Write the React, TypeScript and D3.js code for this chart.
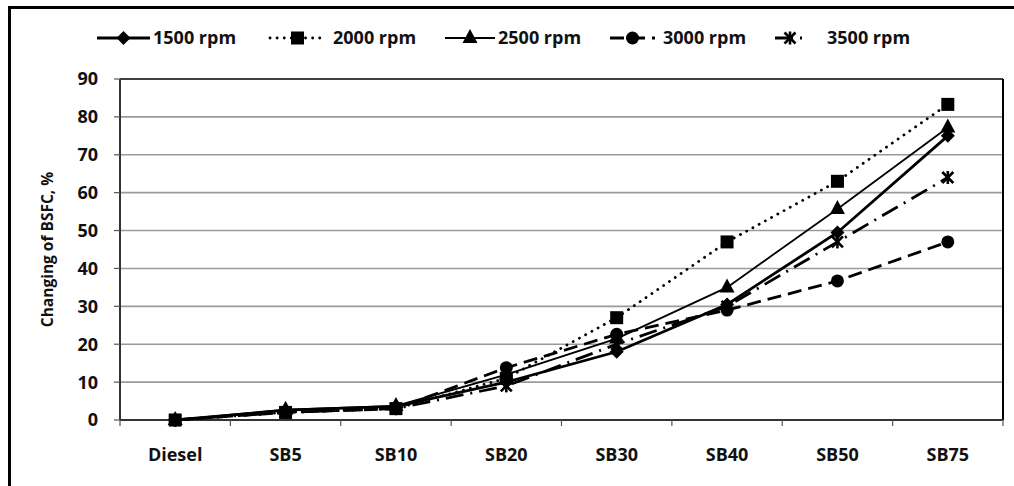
import React from "react";
import * as d3 from "d3";

const categories = ["Diesel", "SB5", "SB10", "SB20", "SB30", "SB40", "SB50", "SB75"];
const rpm1500 = [0, 2.6, 3.6, 10, 18, 30.5, 49.5, 75];
const rpm2000 = [0, 2, 3, 11, 27, 47, 63, 83.3];
const rpm2500 = [0, 2.7, 3.7, 12, 21.5, 35, 55.7, 77.2];
const rpm3000 = [0, 2, 3, 13.8, 22.6, 29, 36.7, 47];
const rpm3500 = [0, 2, 3, 9, 20, 30, 47, 64];
const yTicks = [0, 10, 20, 30, 40, 50, 60, 70, 80, 90];

type Marker = "diamond" | "square" | "triangle" | "circle" | "asterisk";
interface Series {
  name: string;
  values: number[];
  width: number;
  dash: string;
  cap: "round" | "butt";
  marker: Marker;
}

const series: Series[] = [
  { name: "1500 rpm", values: rpm1500, width: 2.8, dash: "none", cap: "butt", marker: "diamond" },
  { name: "2000 rpm", values: rpm2000, width: 2.8, dash: "0.1 7", cap: "round", marker: "square" },
  { name: "2500 rpm", values: rpm2500, width: 1.8, dash: "none", cap: "butt", marker: "triangle" },
  { name: "3000 rpm", values: rpm3000, width: 2.8, dash: "14 7", cap: "butt", marker: "circle" },
  { name: "3500 rpm", values: rpm3500, width: 2.8, dash: "18 7 2 7", cap: "butt", marker: "asterisk" },
];

const W = 1014;
const H = 486;
const M = { left: 120, right: 1003, top: 79, bottom: 420 };
const FONT = "'Open Sans', 'DejaVu Sans', sans-serif";
const INK = "#111";

function MarkerShape({ kind, x, y }: { kind: Marker; x: number; y: number }) {
  const ink = "#000";
  switch (kind) {
    case "diamond":
      return <path d={`M${x},${y - 7} L${x + 7},${y} L${x},${y + 7} L${x - 7},${y} Z`} fill={ink} />;
    case "square":
      return <rect x={x - 6.5} y={y - 6.5} width={13} height={13} fill={ink} />;
    case "triangle":
      return <path d={`M${x},${y - 9} L${x + 7.5},${y + 5} L${x - 7.5},${y + 5} Z`} fill={ink} />;
    case "circle":
      return <circle cx={x} cy={y} r={6.5} fill={ink} />;
    case "asterisk":
      return (
        <g stroke={ink} strokeWidth={2.6}>
          <line x1={x - 5.5} y1={y - 5.5} x2={x + 5.5} y2={y + 5.5} />
          <line x1={x - 5.5} y1={y + 5.5} x2={x + 5.5} y2={y - 5.5} />
          <line x1={x} y1={y - 6.5} x2={x} y2={y + 6.5} />
        </g>
      );
  }
}

export default function App() {
  const x = d3.scaleBand<string>().domain(categories).range([M.left, M.right]).padding(0);
  const y = d3.scaleLinear().domain([0, 90]).range([M.bottom, M.top]);
  const cx = (c: string) => (x(c) as number) + x.bandwidth() / 2;

  const line = d3
    .line<number>()
    .x((_, i) => cx(categories[i]))
    .y((v) => y(v));

  const legendX = [97, 270, 445, 610, 775];
  const legendSample = [53, 55, 50, 45, 30];
  const legendTextX = [153, 333, 498, 663, 827];
  const legendY = 38;

  return (
    <svg width={W} height={H} style={{ position: "absolute", left: 0, top: 0, background: "#fff" }}>
      {/* outer frame */}
      <rect x={9.5} y={7.5} width={W + 10} height={H + 10} fill="none" stroke="#000" strokeWidth={3} />

      {/* grid */}
      {yTicks.slice(1, -1).map((t) => (
        <line key={t} x1={M.left} x2={M.right} y1={y(t)} y2={y(t)} stroke="#9a9a9a" strokeWidth={1.6} />
      ))}
      {/* plot border */}
      <line x1={M.left} x2={M.right} y1={M.top} y2={M.top} stroke="#000" strokeWidth={1.6} />
      <line x1={M.right} x2={M.right} y1={M.top} y2={M.bottom} stroke="#000" strokeWidth={2} />

      {/* axes */}
      <line x1={M.left} x2={M.left} y1={M.top} y2={M.bottom} stroke="#333" strokeWidth={2} />
      <line x1={M.left} x2={M.right} y1={M.bottom} y2={M.bottom} stroke="#333" strokeWidth={2} />
      {yTicks.map((t) => (
        <g key={t}>
          <line x1={M.left - 6} x2={M.left} y1={y(t)} y2={y(t)} stroke="#555" strokeWidth={1.2} />
          <text
            x={M.left - 22}
            y={y(t)}
            dy="0.36em"
            textAnchor="end"
            fontFamily={FONT}
            fontWeight="bold"
            fontSize={18}
            fill={INK}
          >
            {t}
          </text>
        </g>
      ))}
      {categories.map((c) => (
        <line key={"t" + c} x1={x(c)} x2={x(c)} y1={M.bottom} y2={M.bottom + 6} stroke="#555" strokeWidth={1.2} />
      ))}
      <line x1={M.right} x2={M.right} y1={M.bottom} y2={M.bottom + 6} stroke="#555" strokeWidth={1.2} />
      {categories.map((c) => (
        <text
          key={"l" + c}
          x={cx(c)}
          y={461}
          textAnchor="middle"
          fontFamily={FONT}
          fontWeight="bold"
          fontSize={18}
          fill={INK}
        >
          {c}
        </text>
      ))}
      <text
        transform={`translate(53,${(M.top + M.bottom) / 2}) rotate(-90)`}
        textAnchor="middle"
        fontFamily={FONT}
        fontWeight="bold"
        fontSize={15.5}
        fill={INK}
      >
        Changing of BSFC, %
      </text>

      {/* series */}
      {series.map((s) => (
        <g key={s.name}>
          <path
            d={line(s.values) as string}
            fill="none"
            stroke="#000"
            strokeWidth={s.width}
            strokeDasharray={s.dash}
            strokeLinecap={s.cap}
          />
          {s.values.map((v, i) => (
            <MarkerShape key={i} kind={s.marker} x={cx(categories[i])} y={y(v)} />
          ))}
        </g>
      ))}

      {/* legend */}
      {series.map((s, i) => {
        const x0 = legendX[i];
        const x1 = x0 + legendSample[i];
        return (
          <g key={"lg" + s.name}>
            <line
              x1={x0}
              x2={x1}
              y1={legendY}
              y2={legendY}
              stroke="#000"
              strokeWidth={s.width}
              strokeDasharray={s.dash}
              strokeLinecap={s.cap}
            />
            <MarkerShape kind={s.marker} x={(x0 + x1) / 2} y={legendY} />
            <text
              x={legendTextX[i]}
              y={legendY}
              dy="0.36em"
              fontFamily={FONT}
              fontWeight="bold"
              fontSize={18}
              fill={INK}
            >
              {s.name}
            </text>
          </g>
        );
      })}
    </svg>
  );
}
